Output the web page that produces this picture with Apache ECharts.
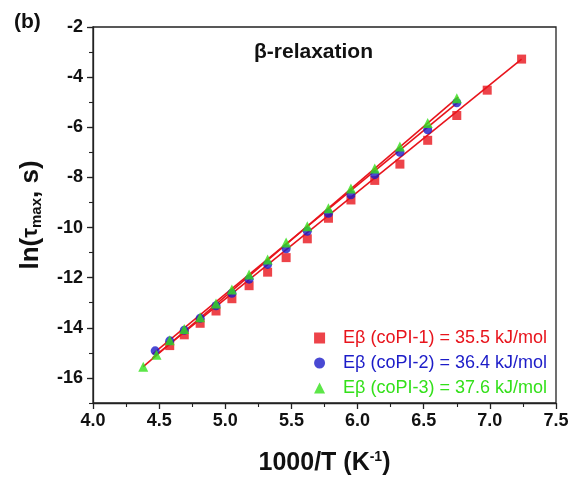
<!DOCTYPE html>
<html><head><meta charset="utf-8">
<script src="https://cdn.jsdelivr.net/npm/echarts@6/dist/echarts.min.js"></script>
<style>html,body{margin:0;padding:0;background:#fff}#c{width:576px;height:483px}</style>
</head><body><div id="c"></div>
<script>
// data: x = 1000/T (K^-1), y = ln(tau_max, s)
const red_x = [7.24, 6.98, 6.75, 6.53, 6.32, 6.13, 5.95, 5.78, 5.62, 5.46, 5.32, 5.18, 5.05, 4.93, 4.81, 4.69, 4.58];
const red_y = [-3.28, -4.52, -5.53, -6.52, -7.47, -8.12, -8.90, -9.63, -10.45, -11.20, -11.78, -12.32, -12.84, -13.33, -13.82, -14.28, -14.71];
const blue_x = [6.75, 6.53, 6.32, 6.13, 5.95, 5.78, 5.62, 5.46, 5.32, 5.18, 5.05, 4.93, 4.81, 4.69, 4.58, 4.47];
const blue_y = [-5.02, -6.10, -7.00, -7.89, -8.69, -9.43, -10.15, -10.85, -11.47, -12.06, -12.62, -13.12, -13.62, -14.10, -14.52, -14.92];
const green_x = [6.75, 6.53, 6.32, 6.13, 5.95, 5.78, 5.62, 5.46, 5.32, 5.18, 5.05, 4.93, 4.81, 4.69, 4.58, 4.48, 4.38];
const green_y = [-4.84, -5.83, -6.77, -7.64, -8.44, -9.23, -9.95, -10.60, -11.28, -11.87, -12.47, -13.03, -13.58, -14.05, -14.50, -15.08, -15.55];
// fitted lines (endpoints)
const fit1_x = [4.45, 7.24], fit1_y = [-15.20, -3.28];
const fit2_x = [4.45, 6.76], fit2_y = [-15.05, -5.00];
const fit3_x = [4.38, 6.76], fit3_y = [-15.55, -4.80];
// tick labels
const y_major = [-16, -14, -12, -10, -8, -6, -4, -2];
const names = ['Eβ (coPI-1) = 35.5 kJ/mol', 'Eβ (coPI-2) = 36.4 kJ/mol', 'Eβ (coPI-3) = 37.6 kJ/mol'];
const colors = ['#e8141c', '#1c1cc8', '#33e01a'];
const zip = (a, b) => a.map((v, i) => [v, b[i]]);

const chart = echarts.init(document.getElementById('c'));
const FF = 'Liberation Sans, Arial';
const axisText = {fontFamily: FF, fontWeight: 'bold', fontSize: 18, color: '#111'};
function fit(xs, ys) {
  return {type: 'line', data: zip(xs, ys), symbol: 'none', lineStyle: {color: '#e8141c', width: 1.6}, z: 2, silent: true};
}
chart.setOption({
  backgroundColor: '#fff',
  animation: false,
  grid: {left: 93, right: 20, top: 27, bottom: 80, show: true, borderColor: '#222', borderWidth: 1.3, backgroundColor: 'transparent'},
  title: [
    {text: '(b)', left: 9, top: 7, textStyle: {fontFamily: FF, fontWeight: 'bold', fontSize: 21, color: '#111'}},
    {text: 'β-relaxation', left: 249, top: 37, textStyle: {fontFamily: FF, fontWeight: 'bold', fontSize: 21, color: '#111'}}
  ],
  legend: {
    orient: 'vertical', right: 24, bottom: 81, itemGap: 7, itemWidth: 11, itemHeight: 11,
    textStyle: {fontFamily: FF, fontSize: 18, padding: [0, 0, 0, 13]},
    data: names.map((n, i) => ({name: n, icon: ['rect', 'circle', 'triangle'][i], textStyle: {color: colors[i]}}))
  },
  xAxis: {
    type: 'value', min: 4.0, max: 7.5, interval: 0.5,
    axisLine: {onZero: false, lineStyle: {color: '#222', width: 1.3}},
    axisTick: {inside: false, length: 6, lineStyle: {color: '#222', width: 1.3}},
    minorTick: {show: true, splitNumber: 2, length: 4, lineStyle: {color: '#222', width: 1.1}},
    splitLine: {show: false},
    axisLabel: Object.assign({margin: 9, formatter: v => v.toFixed(1)}, axisText),
    name: '{a|1000/T (K}{s|-1}{a|)}', nameLocation: 'middle', nameGap: 47,
    nameTextStyle: {rich: {
      a: {fontFamily: FF, fontWeight: 'bold', fontSize: 25, color: '#111'},
      s: {fontFamily: FF, fontWeight: 'bold', fontSize: 14, color: '#111', verticalAlign: 'top', padding: [0, 0, 13, 0]}
    }}
  },
  yAxis: [{
    type: 'value', min: -17, max: -2, interval: 1,
    axisLine: {onZero: false, lineStyle: {color: '#222', width: 1.3}},
    axisTick: {inside: false, length: 4, lineStyle: {color: '#222', width: 1.1}},
    splitLine: {show: false},
    axisLabel: Object.assign({margin: 10, formatter: v => (v % 2 === 0 ? String(v) : '')}, axisText),
    name: '{a|ln(}{t|τ}{s|max}{a|, s)}', nameLocation: 'middle', nameGap: 49, nameRotate: 90,
    nameTextStyle: {rich: {
      a: {fontFamily: FF, fontWeight: 'bold', fontSize: 26, color: '#111'},
      t: {fontFamily: FF, fontWeight: 'bold', fontSize: 22, color: '#111'},
      s: {fontFamily: FF, fontWeight: 'bold', fontSize: 15, color: '#111', verticalAlign: 'bottom', padding: [10, 0, 0, 0]}
    }}
  }, {
    type: 'value', min: -17, max: -2, interval: 1, position: 'left', offset: 0,
    axisLine: {show: false},
    axisTick: {inside: false, length: 6, customValues: y_major, lineStyle: {color: '#222', width: 1.3}},
    axisLabel: {show: false},
    splitLine: {show: false}
  }],
  series: [
    fit(fit1_x, fit1_y), fit(fit2_x, fit2_y), fit(fit3_x, fit3_y),
    {name: names[0], type: 'scatter', data: zip(red_x, red_y), symbol: 'rect', symbolSize: 9, itemStyle: {color: colors[0]}, z: 3},
    {name: names[1], type: 'scatter', data: zip(blue_x, blue_y), symbol: 'circle', symbolSize: 9, itemStyle: {color: colors[1]}, z: 4},
    {name: names[2], type: 'scatter', data: zip(green_x, green_y), symbol: 'triangle', symbolSize: 10, itemStyle: {color: colors[2]}, z: 5}
  ]
});
</script></body></html>
